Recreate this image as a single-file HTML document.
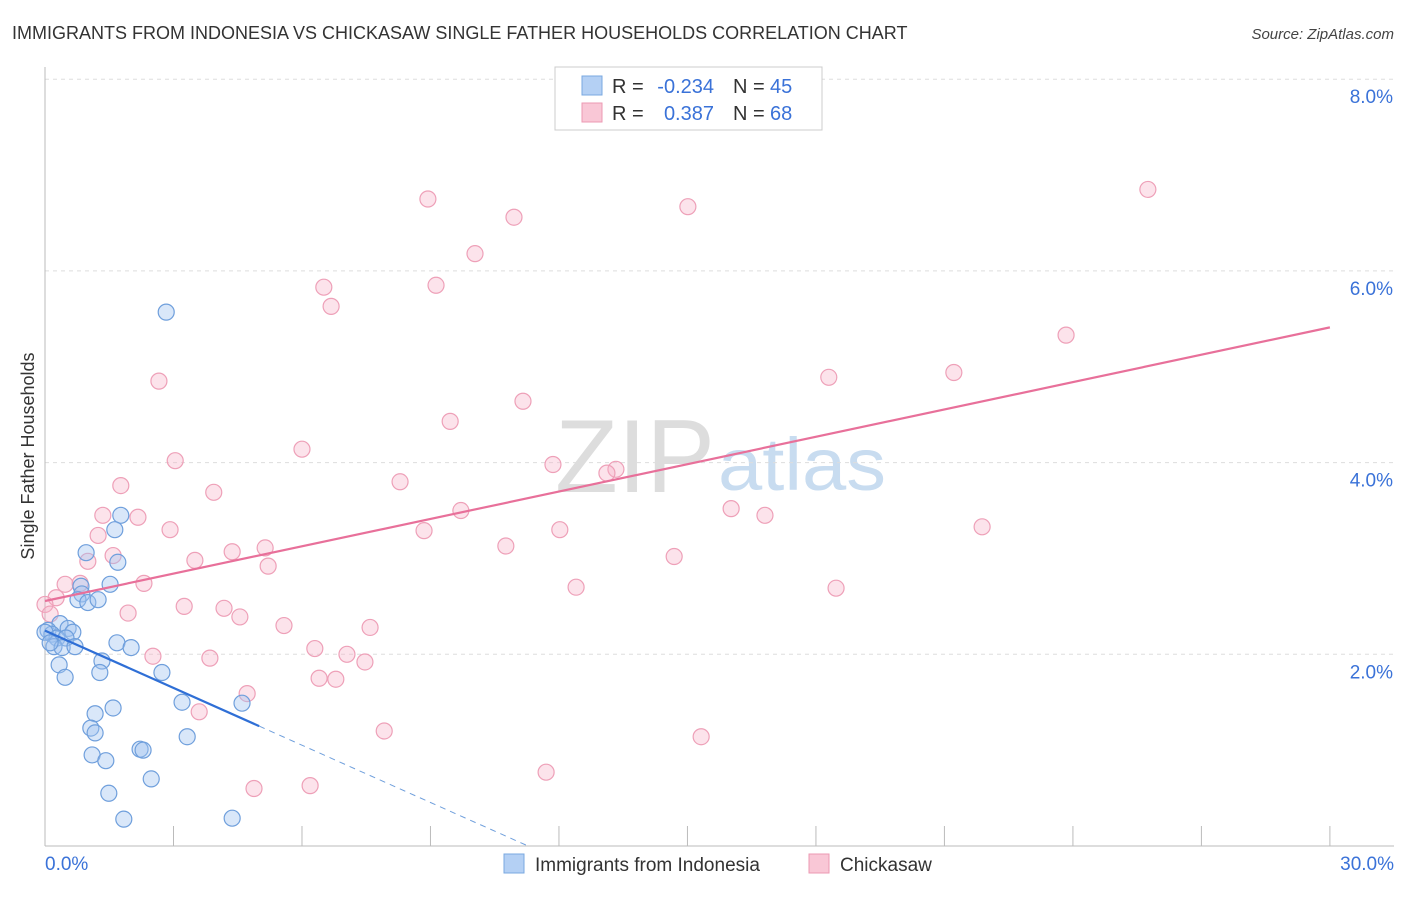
<!DOCTYPE html>
<html><head><meta charset="utf-8"><style>
body{margin:0;background:#fff;font-family:"Liberation Sans",sans-serif;}
svg text{font-family:"Liberation Sans",sans-serif;}
</style></head><body>
<svg id="chart" width="1406" height="892" viewBox="0 0 1406 892" xmlns="http://www.w3.org/2000/svg">
<text x="12" y="39" font-size="18" fill="#333">IMMIGRANTS FROM INDONESIA VS CHICKASAW SINGLE FATHER HOUSEHOLDS CORRELATION CHART</text>
<text x="1394" y="39" font-size="15" fill="#444" text-anchor="end" font-style="italic">Source: ZipAtlas.com</text>
<text x="555" y="492" font-size="104" fill="#ddd" font-family="Liberation Serif" textLength="160" lengthAdjust="spacingAndGlyphs">ZIP</text>
<text x="718" y="490" font-size="74" fill="#c8dcf0" textLength="168" lengthAdjust="spacingAndGlyphs">atlas</text>
<g id="grid"></g>
<g id="axes"></g>
<text transform="translate(34,456) rotate(-90)" font-size="18" fill="#333" text-anchor="middle">Single Father Households</text>
<g id="marks"></g>
<g>
<rect x="555" y="67" width="267" height="63" fill="#fff" stroke="#ccc"/>
<rect x="582" y="76" width="20" height="19" fill="#b4d0f4" stroke="#7aa8e0"/>
<rect x="582" y="103" width="20" height="19" fill="#f9c7d6" stroke="#ec9ab3"/>
<text x="612" y="93" font-size="20" fill="#333">R =</text>
<text x="714" y="93" font-size="20" fill="#3a72d8" text-anchor="end">-0.234</text>
<text x="733" y="93" font-size="20" fill="#333">N =</text>
<text x="770" y="93" font-size="20" fill="#3a72d8">45</text>
<text x="612" y="120" font-size="20" fill="#333">R =</text>
<text x="714" y="120" font-size="20" fill="#3a72d8" text-anchor="end">0.387</text>
<text x="733" y="120" font-size="20" fill="#333">N =</text>
<text x="770" y="120" font-size="20" fill="#3a72d8">68</text>
</g>
<g>
<rect x="504" y="854" width="20" height="19" fill="#b4d0f4" stroke="#7aa8e0"/>
<text x="535" y="871" font-size="19" fill="#333">Immigrants from Indonesia</text>
<rect x="809" y="854" width="20" height="19" fill="#f9c7d6" stroke="#ec9ab3"/>
<text x="840" y="871" font-size="19" fill="#333">Chickasaw</text>
</g>
</svg>
<script>
const blueX=[2.83,1.77,1.63,0.96,1.70,0.84,1.52,0.86,0.77,1.00,1.24,0.35,0.07,0.16,0.54,0.65,0.28,0.49,0.21,0.40,0.70,1.68,2.01,1.33,0.33,1.28,2.73,0.47,1.59,1.17,3.20,4.60,1.07,1.17,3.32,1.10,1.42,2.22,2.29,2.48,1.49,1.84,4.37,0.0,0.12];
const blueY=[5.57,3.45,3.30,3.06,2.96,2.71,2.73,2.63,2.57,2.54,2.57,2.32,2.25,2.21,2.27,2.23,2.17,2.17,2.08,2.07,2.08,2.12,2.07,1.93,1.89,1.81,1.81,1.76,1.44,1.38,1.50,1.49,1.23,1.18,1.14,0.95,0.89,1.01,1.00,0.70,0.55,0.28,0.29,2.23,2.12];
const pinkX=[25.75,8.94,10.95,15.01,10.04,6.51,9.13,6.68,23.84,2.66,18.30,21.22,11.16,9.46,6.00,3.04,11.86,13.33,13.12,8.29,1.77,3.94,1.35,2.17,9.71,16.02,16.81,2.92,8.85,12.02,21.88,1.24,1.59,4.37,5.14,10.76,14.69,3.50,1.00,5.21,0.47,0.82,2.31,12.40,18.47,0.26,3.25,4.18,1.94,4.55,5.58,7.59,6.30,2.52,7.05,3.85,7.47,6.40,6.79,4.72,3.60,7.92,15.32,11.70,4.88,6.19,0.0,0.12];
const pinkY=[6.85,6.75,6.56,6.67,6.18,5.83,5.85,5.63,5.33,4.85,4.89,4.94,4.64,4.43,4.14,4.02,3.98,3.93,3.89,3.80,3.76,3.69,3.45,3.43,3.50,3.52,3.45,3.30,3.29,3.30,3.33,3.24,3.03,3.07,3.11,3.13,3.02,2.98,2.97,2.92,2.73,2.74,2.74,2.70,2.69,2.59,2.50,2.48,2.43,2.39,2.30,2.28,2.06,1.98,2.00,1.96,1.92,1.75,1.74,1.59,1.40,1.20,1.14,0.77,0.60,0.63,2.52,2.42];
const xTicks=[0,3,6,9,12,15,18,21,24,27,30];
const yTicks=[2,4,6,8];
const X=v=>45+v*42.83, Y=v=>846-v*95.85;
const NS="http://www.w3.org/2000/svg";
function mk(t,a,p){const e=document.createElementNS(NS,t);for(const k in a)e.setAttribute(k,a[k]);p.appendChild(e);return e;}
const grid=document.getElementById('grid'),axes=document.getElementById('axes'),marks=document.getElementById('marks');
for(const t of yTicks){
 const l=mk('line',{x1:45,x2:1394,y1:Y(t),y2:Y(t),stroke:'#ddd','stroke-dasharray':'4,4'},grid);
 
 
 const tx=mk('text',{x:1393,y:Y(t)+24,'font-size':19,fill:'#3a72d8','text-anchor':'end'},axes);
 tx.textContent=t.toFixed(1)+'%';
 
 
}
mk('line',{x1:45,x2:1394,y1:846,y2:846,stroke:'#bbb'},axes);
mk('line',{x1:45,x2:45,y1:67,y2:846,stroke:'#bbb'},axes);
for(const t of xTicks){
 const l=mk('line',{x1:X(t),x2:X(t),y1:826,y2:846,stroke:'#bbb'},axes);
 
 
}
const xl=mk('text',{x:45,y:870,'font-size':19,fill:'#3a72d8'},axes);xl.textContent='0.0%';


const xr=mk('text',{x:1394,y:870,'font-size':19,fill:'#3a72d8','text-anchor':'end'},axes);xr.textContent='30.0%';


function fit(xs,ys){const n=xs.length;let mx=0,my=0;for(let i=0;i<n;i++){mx+=xs[i];my+=ys[i];}mx/=n;my/=n;let sxy=0,sxx=0;for(let i=0;i<n;i++){sxy+=(xs[i]-mx)*(ys[i]-my);sxx+=(xs[i]-mx)**2;}const b=sxy/sxx;return [my-b*mx,b];}
pinkX.forEach((x,i)=>{const c=mk('circle',{cx:X(x),cy:Y(pinkY[i]),r:8,fill:'rgba(246,176,198,0.35)',stroke:'#eea0b8','stroke-width':1.2},marks);
 
 });
blueX.forEach((x,i)=>{const c=mk('circle',{cx:X(x),cy:Y(blueY[i]),r:8,fill:'rgba(160,196,240,0.4)',stroke:'#6f9fdc','stroke-width':1.2},marks);
 
 });
const [pa,pb]=fit(pinkX,pinkY);
const pl=mk('line',{x1:X(0),y1:Y(pa),x2:X(30),y2:Y(pa+pb*30),stroke:'#e8709a','stroke-width':2.2},marks);


const [ba,bb]=fit(blueX,blueY);
const xEnd=Math.max(...blueX)+0.4;
const bl=mk('line',{x1:X(0),y1:Y(ba),x2:X(xEnd),y2:Y(ba+bb*xEnd),stroke:'#2f6fd6','stroke-width':2.2},marks);


const x0=-ba/bb;
const bd=mk('line',{x1:X(xEnd),y1:Y(ba+bb*xEnd),x2:X(x0),y2:Y(0),stroke:'#6f9fdc','stroke-width':1,'stroke-dasharray':'6,5'},marks);


</script>
</body></html>
